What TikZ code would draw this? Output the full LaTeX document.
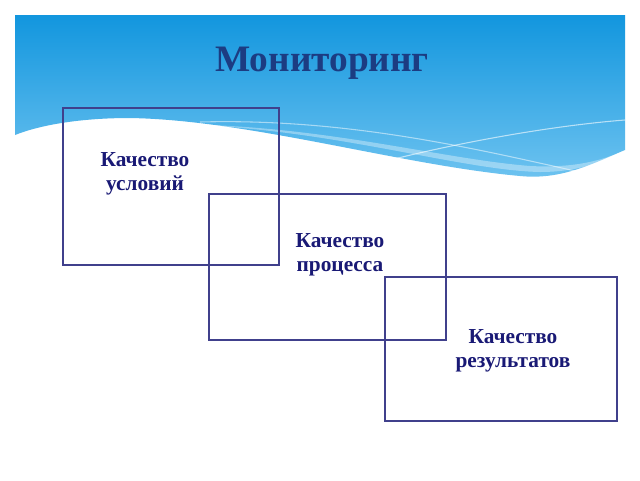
\documentclass[tikz,border=0pt]{standalone}
\usepackage{fontspec}
\setmainfont{Liberation Serif}
\begin{document}
\begin{tikzpicture}[x=0.75pt,y=-0.75pt,
  boxst/.style={draw=black!40!blue!50!gray,line width=0.8pt},
  txt/.style={font=\bfseries\fontsize{16}{18}\selectfont,text=blue!40!black!90,align=center}]
\useasboundingbox (0,0) rectangle (640,480);
\fill[white] (0,0) rectangle (640,480);
\shade[top color={rgb,255:red,18;green,150;blue,222},bottom color={rgb,255:red,110;green,195;blue,240}]
 (15,15) -- (625,15) -- (625,150) .. controls (590,165) and (560,180) .. (520,176)
 .. controls (400,165) and (250,120) .. (130,118) .. controls (80,118) and (40,125) .. (15,135) -- cycle;
\fill[white,opacity=0.35] (130,125) .. controls (300,118) and (450,170) .. (540,172)
 .. controls (580,172) and (610,160) .. (625,150) .. controls (600,162) and (570,168) .. (530,166)
 .. controls (430,158) and (300,118) .. (130,125) -- cycle;
\draw[white,opacity=0.6,line width=0.8pt] (390,160) .. controls (470,140) and (560,125) .. (625,120);
\draw[white,opacity=0.5,line width=0.8pt] (200,122) .. controls (350,118) and (480,150) .. (580,172);
\node[font=\bfseries\fontsize{28}{32}\selectfont,text={rgb,255:red,28;green,60;blue,130}] (title) at (322,63) {Мониторинг};
\node[boxst,minimum width=216*0.75pt,minimum height=157*0.75pt] (b1) at (171,186.5) {};
\node[boxst,minimum width=237*0.75pt,minimum height=146*0.75pt] (b2) at (327.5,267) {};
\node[boxst,minimum width=232*0.75pt,minimum height=144*0.75pt] (b3) at (501,349) {};
\node[txt] (t1) at (145,174) {Качество\\условий};
\node[txt] (t2) at (340,255) {Качество\\процесса};
\node[txt] (t3) at (513,351) {Качество\\результатов};
\end{tikzpicture}
\end{document}
